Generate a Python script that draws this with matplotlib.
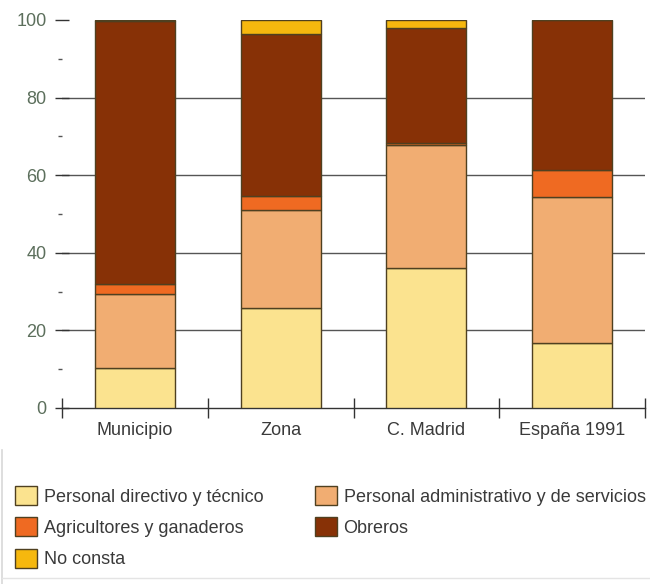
import numpy as np
import matplotlib
matplotlib.use("Agg")
import matplotlib.pyplot as plt
from matplotlib.lines import Line2D

plt.rcParams['font.family'] = ['Liberation Sans', 'DejaVu Sans']

categorias = ["Municipio", "Zona", "C. Madrid", "España 1991"]
series = ["Personal directivo y técnico", "Personal administrativo y de servicios",
          "Agricultores y ganaderos", "Obreros", "No consta"]

directivo = [10.3, 25.8, 36.1, 16.8]
administrativo = [19.1, 25.2, 31.7, 37.6]
agricultores = [2.6, 3.6, 0.4, 6.9]
obreros = [67.7, 41.8, 29.7, 38.7]
no_consta = [0.3, 3.6, 2.1, 0.0]

valores = [directivo, administrativo, agricultores, obreros, no_consta]
colores = ["#fbe38f", "#f1ad72", "#ef6a22", "#873106", "#f6b80e"]
borde = "#4f4020"

fig = plt.figure(figsize=(6.5, 5.84), dpi=100)
ax = fig.add_axes([62/650, 1 - 408/584, (645 - 62)/650, (408 - 20)/584])

x = np.arange(len(categorias))
base = np.zeros(len(categorias))
barras = []
for vals, col in zip(valores, colores):
    b = ax.bar(x, vals, bottom=base, width=0.55, color=col, edgecolor=borde,
               linewidth=1.0, zorder=3)
    barras.append(b)
    base += np.array(vals)

ax.set_xlim(-0.5, 3.5)
ax.set_ylim(0, 100)

# lineas horizontales de referencia
for yv in [20, 40, 60, 80]:
    ax.axhline(yv, color="#555555", linewidth=1.0, zorder=1)

for s in ["top", "right", "left"]:
    ax.spines[s].set_visible(False)
ax.spines["bottom"].set_color("#333333")
ax.spines["bottom"].set_linewidth(1.0)

ax.set_yticks([0, 20, 40, 60, 80, 100])
ax.set_yticks([10, 30, 50, 70, 90], minor=True)
ax.tick_params(axis="y", which="major", direction="inout", length=10, width=1.0,
               color="#333333", labelsize=13, labelcolor="#5c6f5c", pad=6)
ax.tick_params(axis="y", which="minor", direction="out", length=3, width=1.0,
               color="#555555")

ax.set_xticks([-0.5, 0.5, 1.5, 2.5, 3.5])
ax.set_xticklabels([])
ax.set_xticks(x, minor=True)
ax.set_xticklabels(categorias, minor=True)
ax.tick_params(axis="x", which="major", direction="inout", length=14, width=1.0,
               color="#333333")
ax.tick_params(axis="x", which="minor", length=0, labelsize=13,
               labelcolor="#3a3a3a", pad=10)

orden = [0, 2, 4, 1, 3]
fig.legend([barras[i] for i in orden], [series[i] for i in orden],
           loc="upper left", bbox_to_anchor=(15/650, 1 - 486/584), ncol=2,
           frameon=False, fontsize=13, handlelength=1.24, handleheight=1.24,
           handletextpad=0.35, labelspacing=0.65, columnspacing=2.85,
           borderpad=0, borderaxespad=0, labelcolor="#3a3a3a")

# marco tenue alrededor de la leyenda
fig.add_artist(Line2D([2/650, 2/650], [0, 1 - 450/584], color="#d8d8d8",
                      linewidth=1.2, transform=fig.transFigure))
fig.add_artist(Line2D([2/650, 1], [1 - 578/584, 1 - 578/584], color="#e4e4e4",
                      linewidth=1.0, transform=fig.transFigure))

fig.savefig("out.png", dpi=100)
